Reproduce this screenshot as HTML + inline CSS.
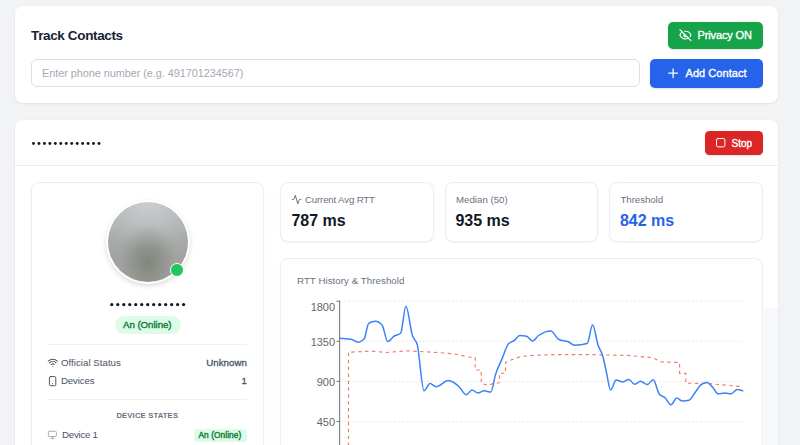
<!DOCTYPE html>
<html><head><meta charset="utf-8">
<style>
*{box-sizing:border-box;margin:0;padding:0}
html,body{width:800px;height:445px;overflow:hidden;background:#f2f3f5;font-family:"Liberation Sans",sans-serif;color:#111827}
.abs{position:absolute}
.card{position:absolute;background:#fff;border-radius:8px;box-shadow:0 1px 2.5px rgba(0,0,0,.07),0 0 0 1px rgba(0,0,0,.012)}
.bx{position:absolute;background:#fff;border:1px solid #eceef1;border-radius:8px;box-shadow:0 1px 2px rgba(0,0,0,.05)}
.t{position:absolute;white-space:nowrap;line-height:1}
.btn{position:absolute;border-radius:5px;color:#fff;box-shadow:0 1px 2px rgba(0,0,0,.12)}
.g{color:#6b7280}
svg{position:absolute;left:0;top:0;overflow:visible}
</style><style>#t_title{letter-spacing:-0.36px}#t_ph{letter-spacing:-0.01px}#t_priv{letter-spacing:-0.13px}#t_add{letter-spacing:0.05px}#t_stop{letter-spacing:-0.02px}#t_badge{letter-spacing:-0.04px}#t_os{letter-spacing:0.02px}#t_unk{letter-spacing:0.06px}#t_dev{letter-spacing:-0.14px}#t_ds{letter-spacing:0.14px}#t_d1{letter-spacing:-0.24px}#t_b2{letter-spacing:0.08px}#t_l1{letter-spacing:-0.17px}#t_v1{letter-spacing:-0.03px}#t_l2{letter-spacing:-0.00px}#t_v2{letter-spacing:-0.03px}#t_v3{letter-spacing:-0.03px}#t_l3{letter-spacing:-0.07px}#t_ct{letter-spacing:0.06px}#t_y1{letter-spacing:-0.05px}#t_y2{letter-spacing:-0.05px}#t_y3{letter-spacing:-0.05px}#t_y4{letter-spacing:-0.05px}</style></head><body>
<!-- card 1 -->
<div class="card" style="left:15px;top:6px;width:763px;height:97px"></div>
<div class="t" id="t_title" style="left:31px;top:28.7px;font-size:13.5px;font-weight:700;color:#172033">Track Contacts</div>
<div class="abs" style="left:31px;top:59px;width:609px;height:28px;border:1px solid #dcdfe4;border-radius:6px;background:#fff"></div>
<div class="t" id="t_ph" style="left:42px;top:67.5px;font-size:10.8px;color:#a3a9b3">Enter phone number (e.g. 491701234567)</div>
<div class="btn" style="left:668px;top:22px;width:95px;height:26.5px;background:#16a34a"></div>
<div class="t" id="t_priv" style="left:697.5px;top:30.3px;font-size:11px;font-weight:400;color:#fff;-webkit-text-stroke:.35px #fff">Privacy ON</div>
<div class="btn" style="left:650px;top:59px;width:113px;height:28.5px;background:#2563eb"></div>
<div class="t" id="t_add" style="left:685.5px;top:68.1px;font-size:11px;font-weight:400;color:#fff;-webkit-text-stroke:.35px #fff">Add Contact</div>
<!-- card 2 -->
<div class="card" style="left:15px;top:120px;width:763px;height:340px"></div>
<div class="abs" style="left:15px;top:165px;width:763px;height:1px;background:#eceef1"></div>
<div class="btn" style="left:705px;top:131px;width:58px;height:24px;background:#dc2626;border-radius:4.5px"></div>
<div class="t" id="t_stop" style="left:731.5px;top:138.8px;font-size:10px;font-weight:400;color:#fff;-webkit-text-stroke:.35px #fff">Stop</div>
<!-- left panel -->
<div class="bx" style="left:31px;top:182px;width:233px;height:290px"></div>
<div class="abs" style="left:105.5px;top:199.8px;width:84px;height:84px;border-radius:50%;background:#fff;box-shadow:0 2px 5px rgba(0,0,0,.14)"></div>
<div class="abs" style="left:107.5px;top:201.8px;width:80px;height:80px;border-radius:50%;background:radial-gradient(ellipse 36% 48% at 50% 76%,rgba(126,129,118,.85) 0%,rgba(130,133,124,.45) 55%,rgba(130,133,124,0) 100%),radial-gradient(ellipse 70% 60% at 50% 0%,rgba(205,208,211,.9) 0%,rgba(205,208,211,0) 100%),linear-gradient(180deg,#b4b7b8 0%,#a9acab 40%,#a0a3a0 70%,#a3a6a3 100%)"></div>
<div class="abs" style="left:169.7px;top:263px;width:14.2px;height:14.2px;border-radius:50%;background:#22c55e;border:1.5px solid #fff"></div>
<div class="abs" style="left:114.5px;top:315.5px;width:66px;height:18.5px;border-radius:10px;background:#dcfce7"></div>
<div class="t" id="t_badge" style="left:123px;top:319.7px;font-size:9.7px;font-weight:400;color:#15803d;-webkit-text-stroke:.42px #15803d">An (Online)</div>
<div class="abs" style="left:48px;top:344px;width:199px;height:1px;background:#eef0f2"></div>
<div class="t g" id="t_os" style="left:61px;top:357.8px;font-size:9.7px;color:#4b5563">Official Status</div>
<div class="t" id="t_unk" style="right:553px;top:357.8px;font-size:9.7px;font-weight:400;color:#4b5563;-webkit-text-stroke:.3px #4b5563">Unknown</div>
<div class="t g" id="t_dev" style="left:61px;top:376.3px;font-size:9.7px;color:#4b5563">Devices</div>
<div class="t" id="t_one" style="right:553px;top:376.3px;font-size:9.7px;font-weight:400;color:#4b5563;-webkit-text-stroke:.3px #4b5563">1</div>
<div class="abs" style="left:48px;top:398.5px;width:199px;height:1px;background:#eef0f2"></div>
<div class="t" id="t_ds" style="left:116.4px;top:411.6px;font-size:7.7px;font-weight:700;color:#6b7280">DEVICE STATES</div>
<div class="t" id="t_d1" style="left:62px;top:429.8px;font-size:9.7px;color:#4b5563">Device 1</div>
<div class="abs" style="left:193.5px;top:428.5px;width:53.5px;height:13px;border-radius:3px;background:#dcfce7"></div>
<div class="t" id="t_b2" style="left:198.5px;top:431px;font-size:8.3px;font-weight:400;color:#15803d;-webkit-text-stroke:.42px #15803d">An (Online)</div>
<!-- stat boxes -->
<div class="bx" style="left:280px;top:182px;width:154px;height:60px"></div>
<div class="bx" style="left:444.5px;top:182px;width:153.5px;height:60px"></div>
<div class="bx" style="left:609px;top:182px;width:154px;height:60px"></div>
<div class="abs" style="left:764px;top:308px;width:14px;height:140px;background:#f7f8fb"></div>
<div class="bx" style="left:280px;top:257.5px;width:483px;height:200px"></div>
<div class="t g" id="t_l1" style="left:305px;top:195px;font-size:9.7px">Current Avg RTT</div>
<div class="t" id="t_v1" style="left:291.5px;top:213px;font-size:16px;font-weight:700;color:#111827">787 ms</div>
<div class="t g" id="t_l2" style="left:456px;top:195px;font-size:9.7px">Median (50)</div>
<div class="t" id="t_v2" style="left:455.5px;top:213px;font-size:16px;font-weight:700;color:#111827">935 ms</div>
<div class="t g" id="t_l3" style="left:620.5px;top:195px;font-size:9.7px">Threshold</div>
<div class="t" id="t_v3" style="left:620px;top:213px;font-size:16px;font-weight:700;color:#2563eb">842 ms</div>
<div class="t g" id="t_ct" style="left:297px;top:276.3px;font-size:9.7px">RTT History &amp; Threshold</div>
<div class="t" id="t_y1" style="right:465px;top:301.6px;font-size:11px;color:#666">1800</div>
<div class="t" id="t_y2" style="right:465px;top:336.9px;font-size:11px;color:#666">1350</div>
<div class="t" id="t_y3" style="right:465px;top:376.7px;font-size:11px;color:#666">900</div>
<div class="t" id="t_y4" style="right:465px;top:416.7px;font-size:11px;color:#666">450</div>
<svg width="800" height="445" viewBox="0 0 800 445" fill="none">
<!-- header dots + name dots -->
<circle cx="33.50" cy="143.50" r="1.45" fill="#111827"/><circle cx="38.96" cy="143.50" r="1.45" fill="#111827"/><circle cx="44.42" cy="143.50" r="1.45" fill="#111827"/><circle cx="49.88" cy="143.50" r="1.45" fill="#111827"/><circle cx="55.33" cy="143.50" r="1.45" fill="#111827"/><circle cx="60.79" cy="143.50" r="1.45" fill="#111827"/><circle cx="66.25" cy="143.50" r="1.45" fill="#111827"/><circle cx="71.71" cy="143.50" r="1.45" fill="#111827"/><circle cx="77.17" cy="143.50" r="1.45" fill="#111827"/><circle cx="82.62" cy="143.50" r="1.45" fill="#111827"/><circle cx="88.08" cy="143.50" r="1.45" fill="#111827"/><circle cx="93.54" cy="143.50" r="1.45" fill="#111827"/><circle cx="99.00" cy="143.50" r="1.45" fill="#111827"/>
<circle cx="111.80" cy="304.60" r="1.62" fill="#111827"/><circle cx="117.78" cy="304.60" r="1.62" fill="#111827"/><circle cx="123.77" cy="304.60" r="1.62" fill="#111827"/><circle cx="129.75" cy="304.60" r="1.62" fill="#111827"/><circle cx="135.73" cy="304.60" r="1.62" fill="#111827"/><circle cx="141.72" cy="304.60" r="1.62" fill="#111827"/><circle cx="147.70" cy="304.60" r="1.62" fill="#111827"/><circle cx="153.68" cy="304.60" r="1.62" fill="#111827"/><circle cx="159.67" cy="304.60" r="1.62" fill="#111827"/><circle cx="165.65" cy="304.60" r="1.62" fill="#111827"/><circle cx="171.63" cy="304.60" r="1.62" fill="#111827"/><circle cx="177.62" cy="304.60" r="1.62" fill="#111827"/><circle cx="183.60" cy="304.60" r="1.62" fill="#111827"/>
<!-- chart grid -->
<g stroke="#e9e9e9" stroke-width="1" stroke-dasharray="2.07 2.07">
<path d="M340 301.2H743"/><path d="M340 341.3H743"/><path d="M340 381.4H743"/><path d="M340 421.5H743"/>
</g>
<g stroke="#7d7d7d" stroke-width="1.1">
<path d="M339.6 300.7V446"/>
<path d="M336.5 301.2H339.6"/><path d="M336.5 341.3H339.6"/><path d="M336.5 381.4H339.6"/><path d="M336.5 421.5H339.6"/>
</g>
<path d="M348.5 446.0L348.5 352.2L371.4 351.1L386.3 352.5L406.5 350.8L437.5 352.5L453.7 353.8L468.5 357.0L475.2 357.6L475.2 370.0L481.2 370.0L481.2 383.5L488.7 385.4L492.8 383.5L499.5 382.7L499.5 373.2L505.5 373.2L505.5 362.5L513.0 359.2L521.1 356.5L533.2 355.4L557.5 354.6L590.0 354.6L627.0 355.4L652.6 357.6L661.5 361.9L679.6 362.5L679.6 373.3L685.8 373.3L685.8 383.2L707.9 383.5L742.7 386.7" stroke="#f5766e" stroke-width="1.15" stroke-dasharray="3.45 3.45"/>
<path d="M339.9 338.2C342.3 338.4 344.7 338.7 347.1 339.0C348.9 339.2 350.7 339.3 352.5 339.8C354.3 340.3 356.1 342.2 357.9 342.2C360.0 342.2 362.0 341.1 364.1 339.0C365.6 337.4 367.2 324.2 368.7 323.3C371.0 321.9 373.2 321.2 375.5 321.2C377.7 321.2 380.0 322.5 382.2 325.2C384.0 327.3 385.8 341.4 387.6 341.4C389.8 341.4 392.1 337.4 394.3 336.0C396.4 334.7 398.5 335.1 400.6 333.3C402.4 331.8 404.1 306.3 405.9 306.3C408.1 306.3 410.2 328.9 412.4 335.5C414.0 340.4 415.7 338.6 417.3 344.9C419.5 353.5 421.8 390.8 424.0 390.8C426.0 390.8 428.0 383.5 430.0 383.5C432.1 383.5 434.1 386.7 436.2 386.7C440.2 386.7 444.3 380.5 448.3 380.5C451.9 380.5 455.5 383.4 459.1 386.7C461.5 388.9 463.9 394.8 466.3 394.8C468.2 394.8 470.1 390.0 472.0 390.0C474.0 390.0 475.9 393.0 477.9 393.0C480.0 393.0 482.0 390.8 484.1 390.8C486.4 390.8 488.6 392.1 490.9 392.1C492.4 392.1 494.0 379.6 495.5 374.6C497.7 367.4 500.0 363.8 502.2 358.4C504.2 353.6 506.2 346.6 508.2 344.1C510.3 341.6 512.3 341.9 514.4 340.3C516.2 338.9 518.0 335.5 519.8 335.5C522.0 335.5 524.3 335.8 526.5 336.3C528.5 336.8 530.4 340.9 532.4 340.9C534.5 340.9 536.5 337.0 538.6 335.5C542.7 332.6 546.7 330.9 550.8 330.9C553.5 330.9 556.2 338.2 558.9 339.5C562.0 341.0 565.2 340.3 568.3 341.7C570.4 342.6 572.4 345.2 574.5 345.2C578.7 345.2 583.0 344.7 587.2 343.6C589.0 343.1 590.8 324.7 592.6 324.7C594.4 324.7 596.2 339.5 598.0 344.9C599.6 349.8 601.3 350.6 602.9 356.5C604.1 360.9 605.4 367.8 606.6 373.2C607.9 379.0 609.3 390.0 610.6 390.0C612.5 390.0 614.3 380.0 616.2 380.0C618.4 380.0 620.7 381.9 622.9 381.9C624.9 381.9 626.9 379.5 628.9 379.5C630.8 379.5 632.6 384.3 634.5 384.3C636.5 384.3 638.5 381.3 640.5 381.3C642.7 381.3 645.0 384.6 647.2 384.6C649.2 384.6 651.2 379.7 653.2 379.7C655.3 379.7 657.3 391.9 659.4 394.3C661.2 396.4 663.0 395.9 664.8 397.5C666.9 399.3 668.9 404.8 671.0 404.8C673.0 404.8 674.9 398.1 676.9 398.1C678.7 398.1 680.5 401.0 682.3 401.0C684.5 401.0 686.8 400.7 689.0 400.2C690.8 399.8 692.6 395.8 694.4 393.5C696.7 390.6 698.9 386.3 701.2 384.6C703.2 383.1 705.1 382.4 707.1 382.4C709.0 382.4 710.9 385.6 712.8 387.6C714.6 389.5 716.4 393.8 718.2 393.8C720.4 393.8 722.5 393.0 724.7 393.0C726.9 393.0 729.2 393.8 731.4 393.8C733.3 393.8 735.2 389.4 737.1 389.4C739.0 389.4 740.8 390.1 742.7 390.8" stroke="#3b82f6" stroke-width="1.5" stroke-linejoin="round" stroke-linecap="round"/>
<!-- eye-off icon (Privacy) -->
<g transform="translate(678.8,28.5) scale(.55)" stroke="#fff" stroke-width="2.1" stroke-linecap="round" stroke-linejoin="round">
<path d="M10.733 5.076a10.744 10.744 0 0 1 11.205 6.575 1 1 0 0 1 0 .696 10.747 10.747 0 0 1-1.444 2.49"/>
<path d="M14.084 14.158a3 3 0 0 1-4.242-4.242"/>
<path d="M17.479 17.499a10.750 10.750 0 0 1-15.417-5.151 1 1 0 0 1 0-.696 10.750 10.750 0 0 1 4.446-5.143"/>
<path d="M2 2l20 20"/>
</g>
<!-- plus icon -->
<g stroke="#fff" stroke-width="1.3" stroke-linecap="round"><path d="M668.8 73.2H677.4"/><path d="M673.1 68.9V77.5"/></g>
<!-- stop square -->
<rect x="716.5" y="138.5" width="8.4" height="8.4" rx="1.6" stroke="#fff" stroke-width="1"/>
<!-- activity icon -->
<g transform="translate(291.4,194.4) scale(.43)" stroke="#6b7280" stroke-width="2.3" stroke-linecap="round" stroke-linejoin="round">
<path d="M22 12h-2.480a2 2 0 0 0-1.930 1.460l-2.350 8.360a.25.25 0 0 1-.480 0L9.240 2.180a.25.25 0 0 0-.480 0l-2.350 8.360A2 2 0 0 1 4.490 12H2"/>
</g>
<!-- wifi icon -->
<g transform="translate(47.3,357) scale(.46)" stroke="#4b5563" stroke-width="2.2" stroke-linecap="round" stroke-linejoin="round">
<path d="M12 20h.01"/><path d="M2 8.820a15 15 0 0 1 20 0"/><path d="M5 12.859a10 10 0 0 1 14 0"/><path d="M8.500 16.429a5 5 0 0 1 7 0"/>
</g>
<!-- phone icon -->
<g stroke="#4b5563" stroke-width="1" stroke-linecap="round"><rect x="49.4" y="376.6" width="6.4" height="9.1" rx="1.2"/><path d="M52.6 383.6h.01"/></g>
<!-- monitor icon -->
<g stroke="#a3a9b3" stroke-width=".95" stroke-linecap="round" stroke-linejoin="round"><rect x="48.4" y="431.3" width="8" height="5.2" rx="1"/><path d="M50.9 438.6h3"/><path d="M52.4 436.5v2.100"/></g>
</svg>
</body></html>
